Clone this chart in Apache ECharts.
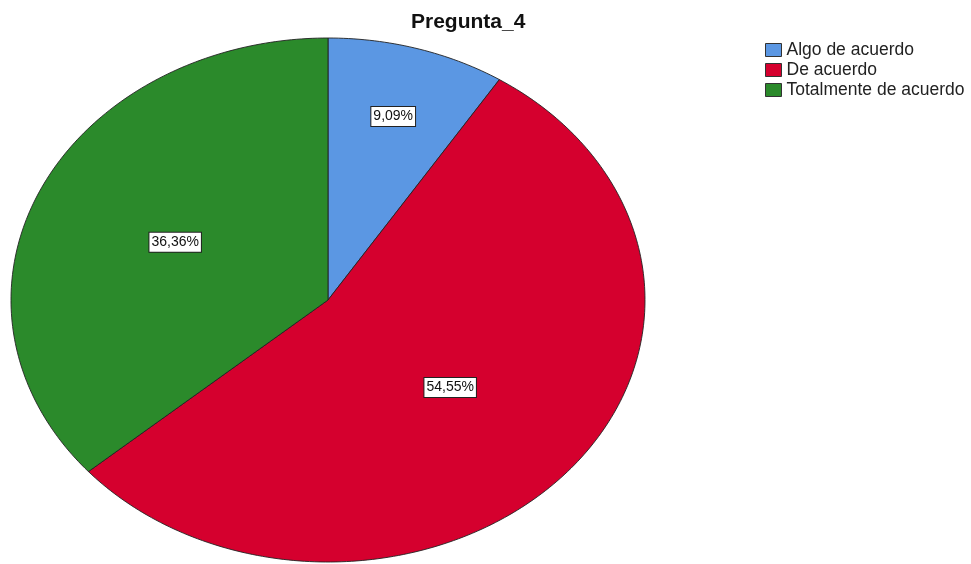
<!DOCTYPE html>
<html>
<head>
<meta charset="utf-8">
<script src="https://cdn.jsdelivr.net/npm/echarts@6/dist/echarts.min.js"></script>
<style>
  html, body { margin: 0; padding: 0; background: #fff; }
  #pie-chart { width: 971px; height: 564px; }
</style>
</head>
<body>
<div id="pie-chart"></div>
<script>
// data (11 answers)
const categories = ["Algo de acuerdo", "De acuerdo", "Totalmente de acuerdo"];
const counts = [1, 6, 4];
const percentLabels = ["9,09%", "54,55%", "36,36%"];

const colors = ["#5b97e3", "#d5002e", "#2b8a2b"];
// how far out (fraction of radius) each label sits
const labelRadius = [0.73, 0.51, 0.53];

let myChart = echarts.init(document.getElementById("pie-chart"));

let total = counts.reduce((a, b) => a + b, 0);
let starts = [];
let acc = 0;
counts.forEach(c => { starts.push(acc); acc += c; });

function makeRender(i) {
  return function(params, api) {
    let v = api.value(2);
    let a0 = (starts[i] / total) * Math.PI * 2;
    let a1 = ((starts[i] + v) / total) * Math.PI * 2;
    // slices go clockwise from 12 o'clock
    let pts = [api.coord([0, 0])];
    let steps = Math.max(8, Math.ceil((a1 - a0) * 60));
    for (let k = 0; k <= steps; k++) {
      let a = a0 + (a1 - a0) * k / steps;
      pts.push(api.coord([Math.sin(a), Math.cos(a)]));
    }
    let mid = (a0 + a1) / 2;
    let lp = api.coord([Math.sin(mid) * labelRadius[i], Math.cos(mid) * labelRadius[i]]);
    return {
      type: "group",
      children: [
        {
          type: "polygon",
          shape: { points: pts },
          style: { fill: colors[i], stroke: "#222", lineWidth: 0.9 }
        },
        {
          type: "text",
          z2: 100,
          x: lp[0],
          y: lp[1],
          style: {
            text: percentLabels[i],
            fill: "#111",
            font: "14px 'Liberation Sans', Arial, sans-serif",
            align: "center",
            verticalAlign: "middle",
            backgroundColor: "#fff",
            borderColor: "#222",
            borderWidth: 1,
            padding: [3, 2, 2, 2]
          }
        }
      ]
    };
  };
}

let option = {
  animation: false,
  title: {
    text: "Pregunta_4",
    left: 411,
    top: 12,
    padding: 0,
    textStyle: {
      fontFamily: "'Liberation Sans', Arial, sans-serif",
      fontSize: 21,
      fontWeight: "bold",
      color: "#111"
    }
  },
  legend: {
    orient: "vertical",
    left: 765,
    top: 41,
    padding: 0,
    itemWidth: 16,
    itemHeight: 13,
    itemGap: 2,
    icon: "rect",
    selectedMode: false,
    data: categories,
    itemStyle: { borderColor: "#333", borderWidth: 1 },
    textStyle: {
      fontFamily: "'Liberation Sans', Arial, sans-serif",
      fontSize: 17.5,
      lineHeight: 17,
      color: "#222"
    }
  },
  grid: {
    left: 11,
    top: 38,
    width: 634,
    height: 524
  },
  xAxis: { type: "value", min: -1, max: 1, show: false },
  yAxis: { type: "value", min: -1, max: 1, show: false },
  series: categories.map((name, i) => ({
    type: "custom",
    name: name,
    coordinateSystem: "cartesian2d",
    itemStyle: { color: colors[i] },
    encode: { x: 0, y: 1 },
    data: [[0, 0, counts[i]]],
    renderItem: makeRender(i)
  }))
};
myChart.setOption(option);
</script>
</body>
</html>
